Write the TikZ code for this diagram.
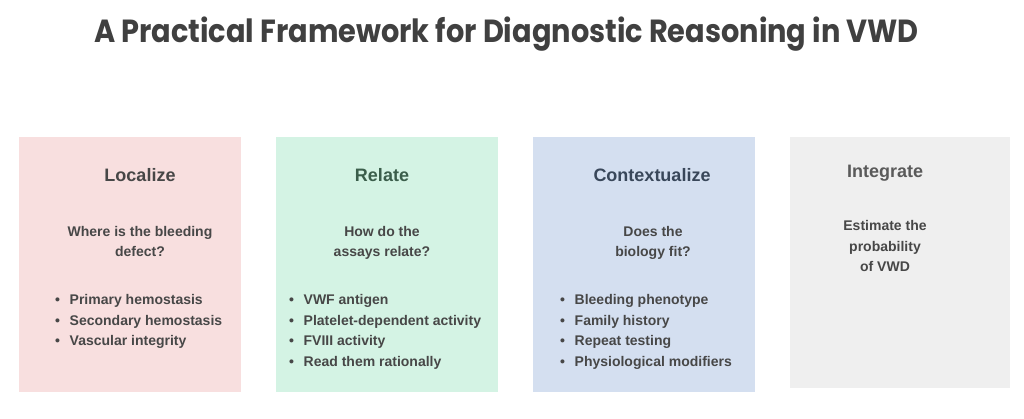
\documentclass[tikz,border=0pt]{standalone}
\usepackage{fontspec}
\setmainfont{Liberation Sans}
\newfontfamily\titlefont{Poppins}
\usetikzlibrary{positioning}
\definecolor{titlegray}{HTML}{404040}
\definecolor{textgray}{HTML}{474747}
\definecolor{pinkbg}{HTML}{F8DFDF}
\definecolor{mintbg}{HTML}{D4F3E4}
\definecolor{bluebg}{HTML}{D4DFF0}
\definecolor{graybg}{HTML}{EFEFEF}
\definecolor{greenhead}{HTML}{3B5E4B}
\definecolor{bluehead}{HTML}{39475A}
\tikzset{
  panel/.style={fill=#1,draw=none,inner sep=0pt},
  heading/.style={anchor=base,inner sep=0pt,font=\fontsize{18}{22}\selectfont\bfseries},
  % multi-line nodes: anchor=base sits on the last line
  question/.style={anchor=base,inner sep=0pt,align=center,text=textgray,
    font=\fontsize{14}{20.6}\selectfont\bfseries},
  bullets/.style={anchor=base west,inner sep=0pt,align=left,text=textgray,
    font=\fontsize{14}{20.5}\selectfont\bfseries}
}
\newcommand\itm{\makebox[14.5pt][l]{\textbullet}}

\begin{document}
\begin{tikzpicture}[x=1pt,y=-1pt]
\useasboundingbox (0,0) rectangle (1024,419);

% four panels: left / right / top / bottom / colour
\foreach \l/\r/\t/\b/\c [count=\i] in
  {19/241/137/392/pinkbg,276/498/137/392/mintbg,533/755/137/392/bluebg,790/1010/137/388/graybg} {
  \node[panel=\c,minimum width=\r pt-\l pt,minimum height=\b pt-\t pt]
    (panel\i) at ({(\l+\r)/2},{(\t+\b)/2}) {};
}

\node[anchor=base,inner sep=0pt,text=titlegray,font=\titlefont\fontsize{32}{36}\selectfont\bfseries]
  (title) at (506.5,43) {\scalebox{0.9}[1]{A Practical Framework for Diagnostic Reasoning in VWD}};

\node[heading,text=textgray] (head1) at (140,182) {Localize};
\node[heading,text=greenhead] (head2) at (382,182) {Relate};
\node[heading,text=bluehead] (head3) at (652,182) {Contextualize};
\node[heading,text=textgray!90] (head4) at (885,178) {Integrate};

\node[question] (ask1) at (140,257) {Where is the bleeding\\defect?};
\node[question] (ask2) at (382,257) {How do the\\assays relate?};
\node[question] (ask3) at (653,257) {Does the\\biology fit?};
\node[question] (ask4) at (885,272) {Estimate the\\probability\\of VWD};

\node[bullets] (list1) at (55,345.7) {\itm Primary hemostasis\\\itm Secondary hemostasis\\\itm Vascular integrity};
\node[bullets] (list2) at (289,366.2) {\itm VWF antigen\\\itm Platelet-dependent activity\\\itm FVIII activity\\\itm Read them rationally};
\node[bullets] (list3) at (560,366.2) {\itm Bleeding phenotype\\\itm Family history\\\itm Repeat testing\\\itm Physiological modifiers};
\end{tikzpicture}
\end{document}
